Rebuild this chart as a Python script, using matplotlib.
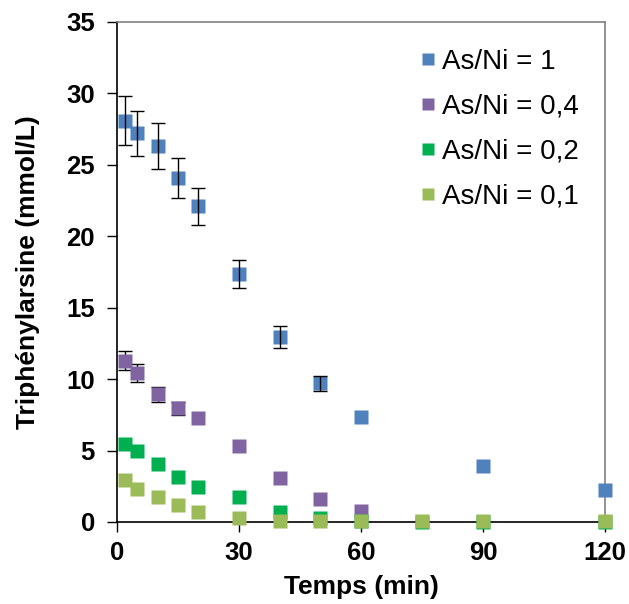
import matplotlib
matplotlib.use("Agg")
import matplotlib.pyplot as plt

plt.rcParams['font.family'] = ['Liberation Sans', 'DejaVu Sans']

t_blue = [2, 5, 10, 15, 20, 30, 40, 50, 60, 90, 120]
y_blue = [28.1, 27.2, 26.3, 24.1, 22.1, 17.35, 12.95, 9.7, 7.35, 3.9, 2.24]
e_blue = [1.7, 1.6, 1.6, 1.4, 1.3, 1.0, 0.75, 0.55, 0.0, 0.0, 0.0]

t_purple = [2, 5, 10, 15, 20, 30, 40, 50, 60]
y_purple = [11.3, 10.4, 8.93, 7.97, 7.27, 5.35, 3.1, 1.6, 0.75]
e_purple = [0.65, 0.63, 0.55, 0.45, 0.0, 0.0, 0.0, 0.0, 0.0]

t_green = [2, 5, 10, 15, 20, 30, 40, 50, 60, 75, 90, 120]
y_green = [5.47, 4.96, 4.07, 3.18, 2.48, 1.78, 0.7, 0.3, 0.05, 0.0, 0.0, 0.0]

t_lgreen = [2, 5, 10, 15, 20, 30, 40, 50, 60, 75, 90, 120]
y_lgreen = [2.95, 2.31, 1.78, 1.19, 0.72, 0.26, 0.1, 0.05, 0.05, 0.05, 0.05, 0.05]

labels = ["As/Ni = 1", "As/Ni = 0,4", "As/Ni = 0,2", "As/Ni = 0,1"]
colors = ["#4F81BD", "#8064A2", "#00B050", "#9BBB59"]

fig = plt.figure(figsize=(6.29, 6.04), dpi=100)
ax = fig.add_axes([0.186, 0.1358, 0.776, 0.8278])

ms = 9.4


def err_pts(t, y, e):
    pts = [(a, b, c) for a, b, c in zip(t, y, e) if c > 0]
    return [p[0] for p in pts], [p[1] for p in pts], [p[2] for p in pts]


ax.plot(t_blue, y_blue, 's', color=colors[0], ms=ms, mec='none', label=labels[0],
        zorder=3, clip_on=False)
bt, by, be = err_pts(t_blue, y_blue, e_blue)
ax.errorbar(bt, by, yerr=be, fmt='none', ecolor='black', elinewidth=1.0,
            capsize=5, capthick=1.0, zorder=4, clip_on=False)
ax.plot(t_purple, y_purple, 's', color=colors[1], ms=ms, mec='none', label=labels[1],
        zorder=3, clip_on=False)
pt, py, pe = err_pts(t_purple, y_purple, e_purple)
ax.errorbar(pt, py, yerr=pe, fmt='none', ecolor='black', elinewidth=1.0,
            capsize=5, capthick=1.0, zorder=2.5, clip_on=False)
ax.plot(t_green, y_green, 's', color=colors[2], ms=ms, mec='none', label=labels[2],
        zorder=3.1, clip_on=False)
ax.plot(t_lgreen, y_lgreen, 's', color=colors[3], ms=ms, mec='none', label=labels[3],
        zorder=3.2, clip_on=False)

ax.set_xlim(0, 120)
ax.set_ylim(0, 35)
ax.set_xticks([0, 30, 60, 90, 120])
ax.set_yticks(range(0, 36, 5))
ax.tick_params(axis='both', labelsize=18.5, direction='out', length=7, width=1)
ax.tick_params(axis='y', pad=9)
ax.tick_params(axis='x', pad=7)
for lab in ax.get_xticklabels() + ax.get_yticklabels():
    lab.set_fontweight('bold')

for s in ['left', 'bottom']:
    ax.spines[s].set_color('black')
    ax.spines[s].set_linewidth(1.2)
for s in ['top', 'right']:
    ax.spines[s].set_color('#808080')
    ax.spines[s].set_linewidth(1.2)

ax.set_xlabel("Temps (min)", fontsize=19, fontweight='bold', labelpad=7)
ax.set_ylabel("Triphénylarsine (mmol/L)", fontsize=19, fontweight='bold', labelpad=19)

leg = fig.legend(loc='upper left',
                 bbox_to_anchor=(421 / 629, (604 - 49) / 604),
                 frameon=False, fontsize=20, handlelength=0.5, handletextpad=0.25,
                 labelspacing=0.68, markerscale=0.92, borderaxespad=0, borderpad=0)

fig.savefig("out.png", dpi=100)
